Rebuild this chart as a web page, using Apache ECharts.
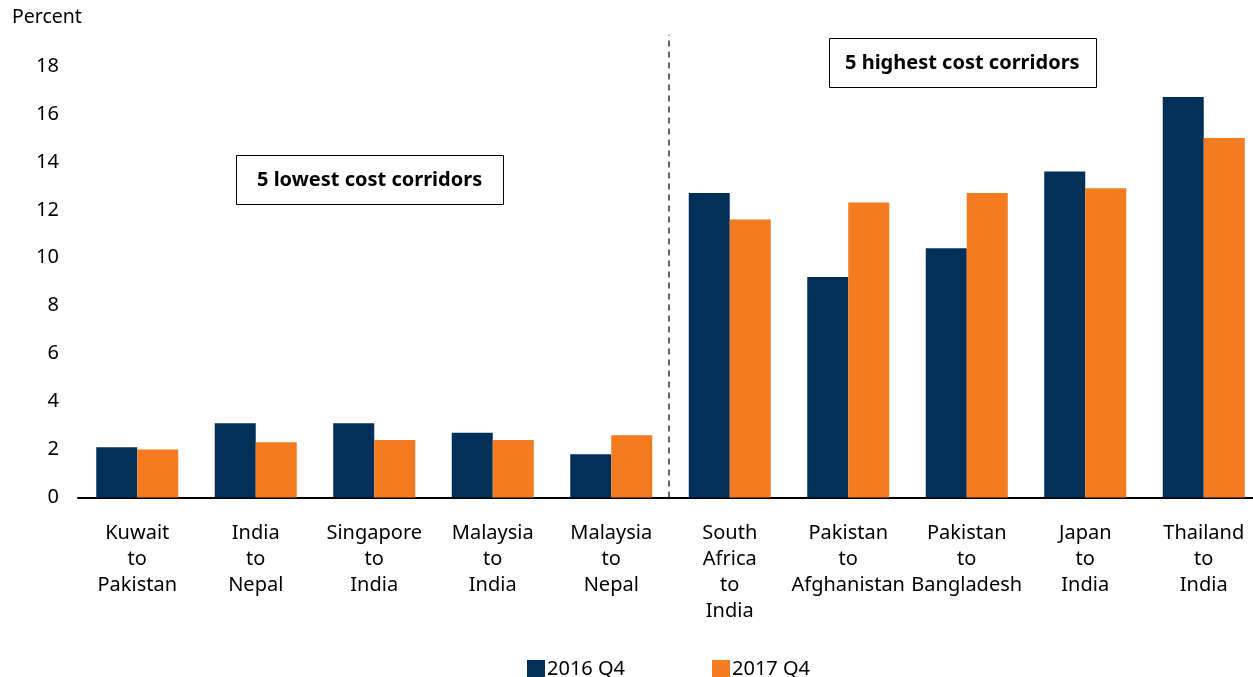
<!DOCTYPE html>
<html>
<head>
<meta charset="utf-8">
<script src="https://cdn.jsdelivr.net/npm/echarts@6/dist/echarts.min.js"></script>
<style>
  html, body { margin: 0; padding: 0; background: #fff; overflow: hidden; }
  #main { width: 1265px; height: 677px; }
</style>
</head>
<body>
<div id="main"></div>
<script>
// corridors and remittance costs (percent)
var categories = [
  "Kuwait\nto\nPakistan", "India\nto\nNepal", "Singapore\nto\nIndia",
  "Malaysia\nto\nIndia", "Malaysia\nto\nNepal", "South\nAfrica\nto\nIndia",
  "Pakistan\nto\nAfghanistan", "Pakistan\nto\nBangladesh", "Japan\nto\nIndia",
  "Thailand\nto\nIndia"
];
var q4_2016 = [2.1, 3.1, 3.1, 2.7, 1.8, 12.7, 9.2, 10.4, 13.6, 16.7];
var q4_2017 = [2.0, 2.3, 2.4, 2.4, 2.6, 11.6, 12.3, 12.7, 12.9, 15.0];
var seriesNames = ["2016 Q4", "2017 Q4"];
var boxLabels = ["5 lowest cost corridors", "5 highest cost corridors"];

var font = "Noto Sans";
var navy = "#003057";
var orange = "#F47B20";

var myChart = echarts.init(document.getElementById("main"));

var option = {
  animation: false,
  textStyle: { fontFamily: font, color: "#000" },
  title: [
    {
      text: "Percent",
      left: 12, top: 7, padding: 0,
      textStyle: { fontFamily: font, fontSize: 19.5, fontWeight: "normal", color: "#000" }
    },
    {
      text: boxLabels[0],
      left: 236, top: 155,
      padding: [15, 22, 15, 21],
      borderColor: "#000", borderWidth: 1,
      textStyle: { fontFamily: font, fontSize: 20, fontWeight: "bold", color: "#000" }
    },
    {
      text: boxLabels[1],
      left: 829, top: 38,
      padding: [15, 17, 15, 16],
      borderColor: "#000", borderWidth: 1,
      textStyle: { fontFamily: font, fontSize: 20, fontWeight: "bold", color: "#000" }
    }
  ],
  legend: {
    data: seriesNames,
    left: 522, top: 654,
    itemWidth: 18, itemHeight: 18, itemGap: 87,
    icon: "rect",
    textStyle: { fontFamily: font, fontSize: 20, color: "#000", padding: [0, 0, 0, -3] }
  },
  grid: { left: 78, width: 1185, top: 18, bottom: 179.5 },
  xAxis: [
    {
      type: "category",
      data: categories,
      axisTick: { show: false },
      axisLine: { lineStyle: { color: "#000", width: 2 } },
      axisLabel: {
        interval: 0, margin: 23,
        fontFamily: font, fontSize: 20, lineHeight: 26, color: "#000"
      }
    },
    { type: "value", min: 0, max: 10, show: false }
  ],
  yAxis: {
    type: "value",
    min: 0, max: 20, interval: 2,
    splitLine: { show: false },
    axisLine: { show: false },
    axisTick: { show: false },
    axisLabel: {
      margin: 19, fontFamily: font, fontSize: 20, color: "#000",
      formatter: function (v) { return v === 20 ? "" : v; }
    }
  },
  series: [
    {
      name: seriesNames[0], type: "bar", data: q4_2016,
      barWidth: 41, barGap: "0%",
      itemStyle: { color: navy }
    },
    {
      name: seriesNames[1], type: "bar", data: q4_2017,
      barWidth: 41, barGap: "0%",
      itemStyle: { color: orange }
    },
    {
      // divider between the two groups
      type: "line", xAxisIndex: 1, data: [],
      markLine: {
        symbol: "none", silent: true,
        label: { show: false },
        lineStyle: { color: "#333", type: [6, 5], width: 1.5 },
        data: [[{ coord: [4.985, 0] }, { coord: [4.985, 19.3] }]]
      }
    }
  ]
};

myChart.setOption(option);
</script>
</body>
</html>
